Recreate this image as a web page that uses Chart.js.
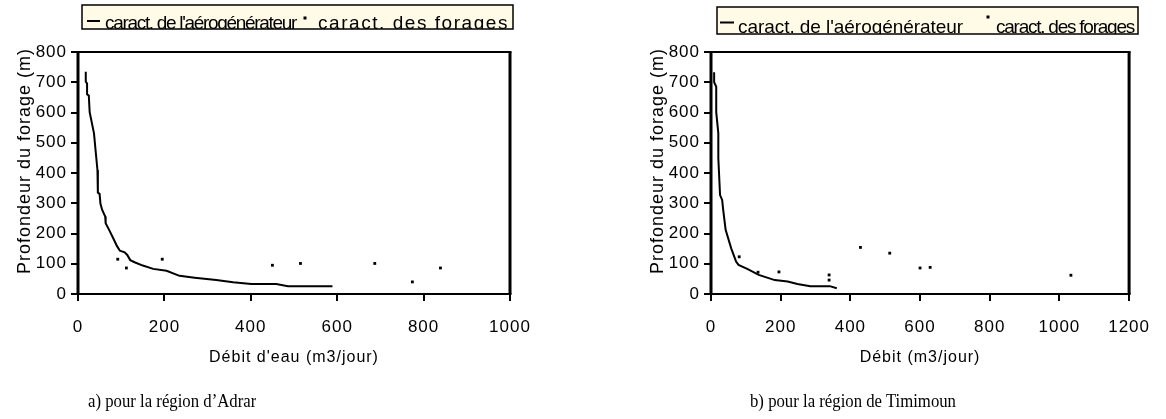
<!DOCTYPE html>
<html>
<head>
<meta charset="utf-8">
<script src="https://cdn.jsdelivr.net/npm/chart.js@4"></script>
<style>
  body { margin: 0; background: #fff; width: 1166px; height: 419px; overflow: hidden; position: relative; }
  canvas { position: absolute; top: 0; }
  #adrarChart { left: 0; }
  #timiChart { left: 633px; }
  .caption { position: absolute; top: 390px; font-family: 'Liberation Serif', 'Times New Roman', serif; font-size: 18px; line-height: 22px; color: #000; white-space: nowrap; transform: scaleX(0.93); transform-origin: left center; }
</style>
</head>
<body>
<canvas id="adrarChart" width="583" height="419"></canvas>
<canvas id="timiChart" width="533" height="419"></canvas>
<div class="caption" style="left:88px">a) pour la région d’Adrar</div>
<div class="caption" style="left:750px">b) pour la région de Timimoun</div>
<script>
// a) Adrar
const adrarCurveX = [18, 18, 21, 21, 25, 27, 37, 45, 46, 50, 52, 56, 63, 64, 72, 81, 90, 97, 108, 114, 121, 131, 150, 174, 205, 235, 270, 320, 359, 401, 459, 486, 589];
const adrarCurveY = [735, 702, 696, 660, 656, 601, 531, 410, 335, 331, 298, 278, 256, 234, 212, 186, 159, 143, 138, 129, 112, 105, 94, 83, 77, 60, 54, 46, 39, 33, 33, 26, 26];
const adrarWellX = [92, 112, 195, 450, 515, 687, 774, 839];
const adrarWellY = [115, 86, 115, 95, 101, 101, 40, 86];

// b) Timimoun
const timiCurveX = [9, 9, 15, 15, 21, 21, 26, 32, 35, 42, 58, 72, 79, 104, 137, 183, 220, 248, 285, 341, 361];
const timiCurveY = [733, 700, 685, 601, 531, 449, 327, 311, 278, 212, 151, 107, 96, 83, 63, 46, 41, 33, 26, 26, 19];
const timiWellX = [81, 135, 195, 339, 339, 429, 513, 600, 629, 1033];
const timiWellY = [123, 72, 73, 63, 46, 154, 135, 86, 88, 62];

const seriesNames = ["caract. de l'aérogénérateur", 'caract. des forages'];
const yTitle = 'Profondeur du forage (m)';
const font = "'Liberation Sans', Arial, sans-serif";

function toPoints(xs, ys) {
  return xs.map((x, i) => ({ x: x, y: ys[i] }));
}

// wide text like the original export
const spacing = {
  id: 'spacing',
  beforeUpdate(chart) { chart.ctx.letterSpacing = '1px'; },
  beforeDraw(chart) { chart.ctx.letterSpacing = '1px'; }
};

// black frame round the plot area
const frame = {
  id: 'frame',
  afterDraw(chart) {
    const { ctx, chartArea: a } = chart;
    ctx.save();
    ctx.strokeStyle = '#000';
    ctx.lineWidth = 2;
    ctx.beginPath();
    ctx.moveTo(a.left - 1.5, a.top); ctx.lineTo(a.right + 1.5, a.top);
    ctx.moveTo(a.left - 1.5, a.bottom); ctx.lineTo(a.right + 1.5, a.bottom);
    ctx.stroke();
    ctx.lineWidth = 3;
    ctx.beginPath();
    ctx.moveTo(a.left, a.top); ctx.lineTo(a.left, a.bottom);
    ctx.moveTo(a.right, a.top); ctx.lineTo(a.right, a.bottom);
    ctx.stroke();
    ctx.restore();
  }
};

// draw text spread or packed to a given width
function fitText(ctx, text, x, y, width) {
  ctx.letterSpacing = '0px';
  const w = ctx.measureText(text).width;
  ctx.letterSpacing = ((width - w) / text.length) + 'px';
  ctx.fillText(text, x, y);
}

// legend in a cream box above the plot
const legendBox = {
  id: 'legendBox',
  afterDraw(chart, args, o) {
    const ctx = chart.ctx;
    const [x0, y0, x1, y1] = o.box;
    ctx.save();
    ctx.fillStyle = '#fffbe6';
    ctx.fillRect(x0, y0, x1 - x0, y1 - y0);
    ctx.beginPath();
    ctx.rect(x0, y0, x1 - x0, y1 - y0);
    ctx.clip();
    ctx.fillStyle = '#000';
    ctx.font = '19px ' + font;
    ctx.textBaseline = 'alphabetic';
    fitText(ctx, seriesNames[0], o.text1[0], o.base, o.text1[1]);
    fitText(ctx, seriesNames[1], o.text2[0], o.base, o.text2[1]);
    ctx.strokeStyle = '#000';
    ctx.lineWidth = 2;
    ctx.beginPath();
    ctx.moveTo(o.line[0], o.line[2]);
    ctx.lineTo(o.line[1], o.line[2]);
    ctx.stroke();
    ctx.fillRect(o.dot[0] - 1.5, o.dot[1] - 1.5, 3, 3);
    ctx.restore();
    ctx.save();
    ctx.strokeStyle = '#000';
    ctx.lineWidth = 1.5;
    ctx.strokeRect(x0, y0, x1 - x0, y1 - y0);
    ctx.restore();
  }
};

function makeChart(id, curveX, curveY, wellX, wellY, xMax, xTitle, padRight, legend) {
  return new Chart(document.getElementById(id), {
    type: 'scatter',
    data: {
      datasets: [{
        label: seriesNames[0],
        data: toPoints(curveX, curveY),
        showLine: true,
        borderColor: '#000',
        borderWidth: 2,
        pointRadius: 0,
        tension: 0
      }, {
        label: seriesNames[1],
        data: toPoints(wellX, wellY),
        pointStyle: 'rect',
        pointRadius: 2,
        backgroundColor: '#000',
        borderColor: '#000',
        borderWidth: 0
      }]
    },
    options: {
      responsive: false,
      animation: false,
      layout: { padding: { top: 52, right: padRight, bottom: 52, left: 0 } },
      plugins: {
        legend: { display: false },
        tooltip: { enabled: false },
        legendBox: legend
      },
      scales: {
        x: {
          min: 0,
          max: xMax,
          afterFit: s => { s.height = 73; },
          border: { display: false },
          grid: { drawOnChartArea: false, tickLength: 7, color: '#000', lineWidth: 2 },
          ticks: { stepSize: 200, padding: 16, color: '#000', font: { family: font, size: 17 }, callback: v => String(v) },
          title: { display: true, text: xTitle, color: '#000', padding: { top: 0, bottom: 0 }, font: { family: font, size: 16 } }
        },
        y: {
          min: 0,
          max: 800,
          afterFit: s => { s.width = 78; },
          border: { display: false },
          grid: { drawOnChartArea: false, tickLength: 7, color: '#000', lineWidth: 2 },
          ticks: { stepSize: 100, padding: 4, color: '#000', font: { family: font, size: 17 }, callback: v => String(v) },
          // leading blanks lift the title a little above the plot centre, as in the original
          title: { display: true, text: '    ' + yTitle, color: '#000', padding: { top: 14, bottom: 0 }, font: { family: font, size: 18 } }
        }
      }
    },
    plugins: [spacing, frame, legendBox]
  });
}

makeChart('adrarChart', adrarCurveX, adrarCurveY, adrarWellX, adrarWellY, 1000, "Débit d'eau (m3/jour)", 73, {
  box: [82, 5, 513, 29], base: 29, line: [87, 100, 21], text1: [105, 191], dot: [305, 18], text2: [318, 191]
});
makeChart('timiChart', timiCurveX, timiCurveY, timiWellX, timiWellY, 1200, 'Débit (m3/jour)', 23, {
  box: [84, 7, 505, 34], base: 33, line: [87, 101, 22.5], text1: [105, 225], dot: [355, 17], text2: [363, 138]
});
</script>
</body>
</html>
